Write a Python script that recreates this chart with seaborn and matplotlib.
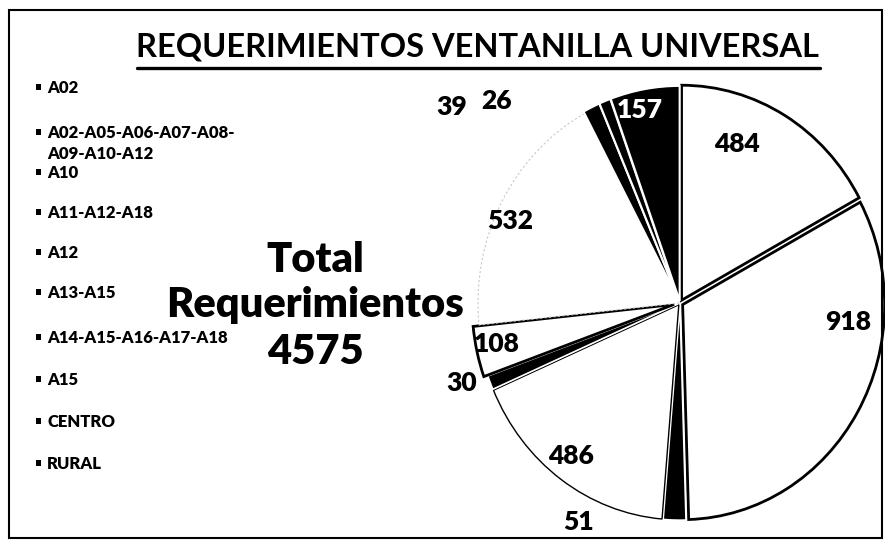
import matplotlib
matplotlib.use("Agg")
import matplotlib.pyplot as plt
import seaborn as sns
from matplotlib.patches import Rectangle
from matplotlib.lines import Line2D

sns.set_theme(style="white")
plt.rcParams['font.family'] = ['Lato', 'DejaVu Sans']

# ---- data ----
categories = ["A02", "A02-A05-A06-A07-A08-\nA09-A10-A12", "A10", "A11-A12-A18",
              "A12", "A13-A15", "A14-A15-A16-A17-A18", "A15", "CENTRO", "RURAL"]
values = [484, 918, 51, 486, 30, 108, 532, 39, 26, 157]
total_text = ["Total", "Requerimientos", "4575"]
title = "REQUERIMIENTOS VENTANILLA UNIVERSAL"

# styles (scan is black & white)
face = ["white", "white", "black", "white", "black", "white", "white", "black", "black", "black"]
edge = ["black", "black", "white", "black", "white", "black", "#c8c8c8", "white", "white", "white"]
lw = [2.0, 2.0, 1.2, 1.0, 1.2, 2.0, 0.8, 1.5, 1.5, 1.5]
txt_col = ["black"] * 9 + ["white"]
explode = [0.015, 0.015, 0.01, 0.01, 0.01, 0.03, 0.0, 0.01, 0.01, 0.01]
# label positions relative to pie center (units of radius)
label_xy = [(0.28, 0.74), (0.83, -0.09), (-0.50, -1.02), (-0.54, -0.71), (-1.08, -0.37),
            (-0.91, -0.19), (-0.84, 0.38), (-1.13, 0.91), (-0.91, 0.94), (-0.20, 0.90)]

W, H = 885, 540
fig = plt.figure(figsize=(W / 100, H / 100), dpi=100)
fig.patch.set_facecolor("white")

# pie axes: center (680, 303) px, radii 202 x 215 px (scan is slightly stretched)
cx, cy, rx, ry = 680, 303, 202, 215
span = 1.3
ax = fig.add_axes([(cx - span * rx) / W, (H - cy - span * ry) / H,
                   2 * span * rx / W, 2 * span * ry / H])

wedges, _ = ax.pie(values, startangle=90, counterclock=False, explode=explode,
                   colors=face, radius=1.0)
ax.set_aspect("auto")
ax.set_xlim(-span, span)
ax.set_ylim(-span, span)
ax.axis("off")
for w, e, l in zip(wedges, edge, lw):
    w.set_edgecolor(e)
    w.set_linewidth(l)
    if e not in ("black", "white"):
        w.set_linestyle((0, (2, 2)))

for v, (lx, ly), c in zip(values, label_xy, txt_col):
    ax.text(lx, ly, str(v), ha="center", va="center", fontsize=19, fontweight="heavy",
            color=c)

# title with underline
t = fig.text(478 / W, 1 - 47 / H, title, ha="center", va="center", fontsize=23.5,
             fontweight="bold", color="black")
fig.canvas.draw()
bb = t.get_window_extent()
fig.add_artist(Line2D([bb.x0 / W, bb.x1 / W], [(bb.y0 - 6) / H, (bb.y0 - 6) / H],
                      color="black", lw=2.4))

# total block
for txt, y in zip(total_text, [260, 305, 352]):
    fig.text(315 / W, 1 - y / H, txt, ha="center", va="center", fontsize=30,
             fontweight="heavy", color="black")

# legend (manual, positions per entry)
leg_y = [87, 132, 172, 212, 252, 292, 337, 379, 421, 463]
for lab, y in zip(categories, leg_y):
    fig.add_artist(Rectangle((36 / W, 1 - (y + 3) / H), 5 / W, 6 / H,
                             facecolor="black", edgecolor="none"))
    fig.text(47 / W, 1 - (y - 7) / H, lab, ha="left", va="top", fontsize=12,
             fontweight="heavy", color="black", linespacing=1.35)

# frame
fig.add_artist(Rectangle((9 / W, 2 / H), (W - 12) / W, (H - 12) / H, fill=False,
                         edgecolor="black", lw=1.5))

fig.savefig("out.png", dpi=100, facecolor="white")
